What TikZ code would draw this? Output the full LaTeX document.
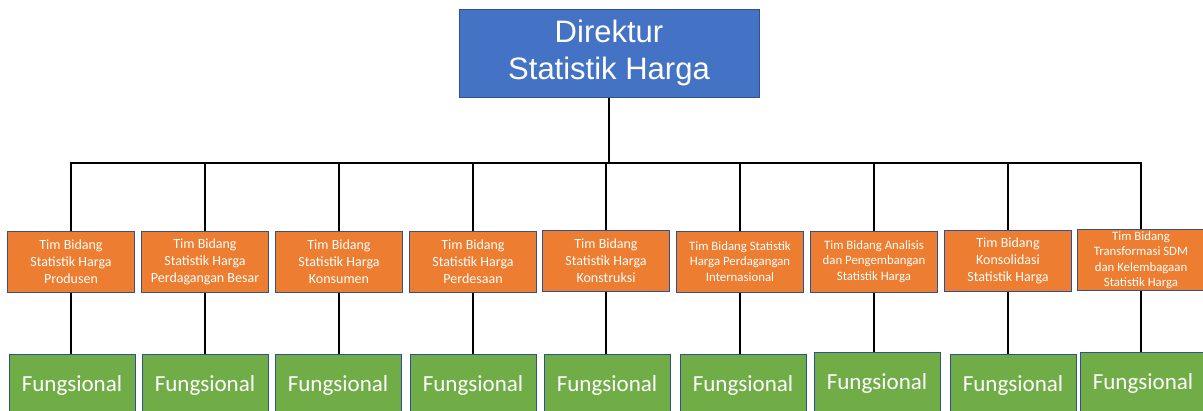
\documentclass[tikz,border=0pt]{standalone}
\usepackage{fontspec}
\setmainfont{Carlito}
\newfontfamily\arialf{Liberation Sans}
\definecolor{dirblue}{HTML}{4472C4}
\definecolor{borderblue}{HTML}{2F528F}
\definecolor{orangebox}{HTML}{ED7D31}
\definecolor{greenbox}{HTML}{70AD47}
\begin{document}
\begin{tikzpicture}[x=1pt,y=-1pt,
 dirbox/.style={draw=borderblue, line width=1pt, fill=dirblue, text=white, minimum width=300pt, minimum height=88pt, align=center, font=\arialf\fontsize{31}{37}\selectfont, inner sep=0pt},
 timbox/.style={draw=borderblue, line width=1pt, fill=orangebox, text=white, minimum width=127pt, minimum height=61pt, align=center, inner sep=0pt, font=\fontsize{14}{17}\selectfont},
 smalltim/.style={font=\fontsize{12.8}{15.5}\selectfont},
 funcbox/.style={draw=borderblue, line width=1pt, fill=greenbox, text=white, minimum width=126pt, minimum height=62pt, inner sep=0pt, font=\fontsize{23}{27}\selectfont},
 link/.style={line width=2.6pt, black}]
\useasboundingbox (0,0) rectangle (1203,410);
\clip (0,0) rectangle (1203,410);
\node[dirbox] (dir) at (609,53) {Direktur\\Statistik Harga};
\coordinate (bus) at (609,163);
\node[timbox] (o1) at (71,261.5) {Tim Bidang\\Statistik Harga\\Produsen};
\node[timbox] (o2) at (205,261.5) {Tim Bidang\\Statistik Harga\\Perdagangan Besar};
\node[timbox] (o3) at (339,261.5) {Tim Bidang\\Statistik Harga\\Konsumen};
\node[timbox] (o4) at (473,261.5) {Tim Bidang\\Statistik Harga\\Perdesaan};
\node[timbox] (o5) at (606,260.5) {Tim Bidang\\Statistik Harga\\Konstruksi};
\node[timbox,smalltim] (o6) at (740,261.5) {Tim Bidang Statistik\\Harga Perdagangan\\Internasional};
\node[timbox,smalltim] (o7) at (874,261.5) {Tim Bidang Analisis\\dan Pengembangan\\Statistik Harga};
\node[timbox] (o8) at (1008,260.5) {Tim Bidang\\Konsolidasi\\Statistik Harga};
\node[timbox,smalltim] (o9) at (1141,260) {Tim Bidang\\Transformasi SDM\\dan Kelembagaan\\Statistik Harga};
\node[funcbox] (g1) at (72,385) {Fungsional};
\node[funcbox] (g2) at (205,385) {Fungsional};
\node[funcbox] (g3) at (338,385) {Fungsional};
\node[funcbox] (g4) at (473,385) {Fungsional};
\node[funcbox] (g5) at (607,385) {Fungsional};
\node[funcbox] (g6) at (743,385) {Fungsional};
\node[funcbox] (g7) at (877,383) {Fungsional};
\node[funcbox] (g8) at (1013,385) {Fungsional};
\node[funcbox] (g9) at (1143,383) {Fungsional};
\draw[link] (dir.south) -- (bus);
\foreach \i in {1,...,9}{
  \draw[link] (bus) -| (o\i.north);
  \draw[link] (o\i.south) -- (o\i.south |- g\i.north);
}
\end{tikzpicture}
\end{document}
